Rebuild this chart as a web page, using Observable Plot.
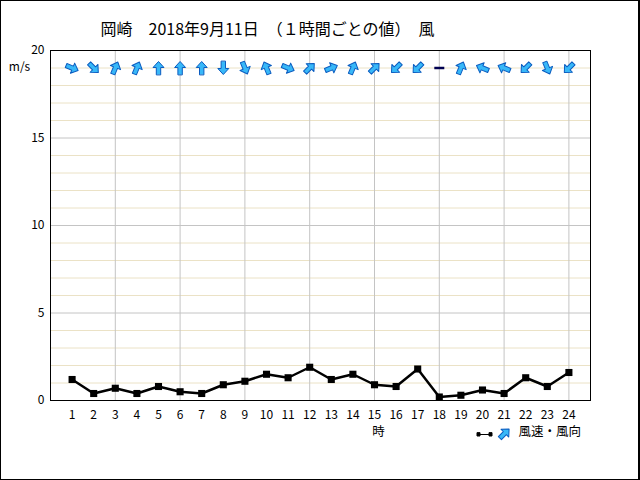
<!DOCTYPE html>
<html><head><meta charset="utf-8">
<script src="https://cdn.jsdelivr.net/npm/d3@7"></script>
<script src="https://cdn.jsdelivr.net/npm/@observablehq/plot@0.6"></script>
<style>
body{margin:0;background:#fff;}
#wrap{position:relative;width:640px;height:480px;}
#border{position:absolute;left:0;top:0;width:640px;height:480px;box-sizing:border-box;border:1px solid #000;border-right-width:2px;pointer-events:none;}
</style>
</head><body>
<div id="wrap"><div id="chart"></div><div id="border"></div></div>
<script>
const title = "岡崎　2018年9月11日　（１時間ごとの値）　風";
const hours = [1,2,3,4,5,6,7,8,9,10,11,12,13,14,15,16,17,18,19,20,21,22,23,24];
const speed = [1.2,0.4,0.7,0.4,0.8,0.5,0.4,0.9,1.1,1.5,1.3,1.9,1.2,1.5,0.9,0.8,1.8,0.2,0.3,0.6,0.4,1.3,0.8,1.6];
const windFrom = ["西北西","北西","南南西","南南西","南","南","南","北","北北西","南南東","西北西","南西","西南西","南南西","南西","北東","北東","静穏","南南西","東南東","東南東","北東","北北西","北東"];
const compass = ["北","北北東","北東","東北東","東","東南東","南東","南南東","南","南南西","南西","西南西","西","西北西","北西","北北西"];
const yTicks = [0,5,10,15,20];
const xGrid = [3,6,9,12,15,18,21,24];
const arrowRow = 19;

const rows = hours.map((h,i)=>({hour:h, speed:speed[i], from:windFrom[i]}));
const windRows = rows.filter(d=>d.from!=="静穏").map(d=>({...d, angle:(compass.indexOf(d.from)*22.5+180)%360}));
const calmRows = rows.filter(d=>d.from==="静穏");

const blockArrow = {draw(ctx, l, r){
  const hl = 6, hw = 5.5, sw = 2.2;
  ctx.moveTo(-sw,0); ctx.lineTo(-sw,-l+hl); ctx.lineTo(-hw,-l+hl); ctx.lineTo(0,-l);
  ctx.lineTo(hw,-l+hl); ctx.lineTo(sw,-l+hl); ctx.lineTo(sw,0); ctx.closePath();
}};
const bar = {draw(ctx,l,r){ctx.moveTo(0,0); ctx.lineTo(0,-l);}};
const dotLine = {draw(ctx,l,r){
  ctx.moveTo(0,0); ctx.lineTo(0,-l);
  ctx.moveTo(-1.5,-1.5); ctx.rect(-1.5,-1.5,3,3);
  ctx.moveTo(-1.5,-l-1.5); ctx.rect(-1.5,-l-1.5,3,3);
}};

const minor = d3.range(1,20).filter(v=>v%5!==0);
const major = [5,10,15];

const chart = Plot.plot({
  width:640, height:480,
  marginLeft:50, marginRight:50, marginTop:50, marginBottom:80,
  style:{fontFamily:"'Noto Sans CJK JP', sans-serif", fontSize:"12px", background:"#fff", color:"#000"},
  x:{domain:[0,25], ticks:hours, tickSize:0, tickPadding:10, tickFormat:d=>String(d), label:null},
  y:{domain:[0,20], ticks:yTicks, tickSize:0, tickPadding:6, label:null},
  marks:[
    Plot.ruleY(minor, {stroke:"#ebe2c6", strokeWidth:1}),
    Plot.ruleY(major, {stroke:"#c4c4c4", strokeWidth:1}),
    Plot.ruleX(xGrid, {stroke:"#c4c4c4", strokeWidth:1}),
    Plot.frame({stroke:"#000", strokeWidth:1}),
    Plot.line(rows, {x:"hour", y:"speed", stroke:"#000", strokeWidth:2.5}),
    Plot.dot(rows, {x:"hour", y:"speed", symbol:"square", r:4, fill:"#000", stroke:"none"}),
    Plot.vector(windRows, {x:"hour", y:()=>arrowRow, rotate:"angle", length:13, anchor:"middle", shape:blockArrow, fill:"#38b8f8", stroke:"#0a5cc0", strokeWidth:1}),
    Plot.vector(calmRows, {x:"hour", y:()=>arrowRow, rotate:90, length:10, anchor:"middle", shape:bar, stroke:"#000050", strokeWidth:2.5, strokeLinecap:"butt"}),
    Plot.text([title], {frameAnchor:"top-left", dx:50, dy:-27, textAnchor:"start", fontSize:16}),
    Plot.text(["m/s"], {frameAnchor:"top-left", dx:-31, dy:12, textAnchor:"middle", fontSize:12}),
    Plot.text(["時"], {x:()=>15, frameAnchor:"bottom", dy:35, dx:4, fontSize:12.5}),
    Plot.vector([0], {frameAnchor:"bottom-right", dx:-112, dy:34, rotate:90, length:12, anchor:"start", shape:dotLine, stroke:"#000", strokeWidth:1, fill:"#000"}),
    Plot.vector([0], {frameAnchor:"bottom-right", dx:-86, dy:33, rotate:45, length:13, anchor:"middle", shape:blockArrow, fill:"#38b8f8", stroke:"#0a5cc0", strokeWidth:1}),
    Plot.text(["風速・風向"], {frameAnchor:"bottom-right", dx:-72, dy:35, textAnchor:"start", fontSize:12.5})
  ]
});
document.getElementById("chart").append(chart);
</script>
</body></html>
